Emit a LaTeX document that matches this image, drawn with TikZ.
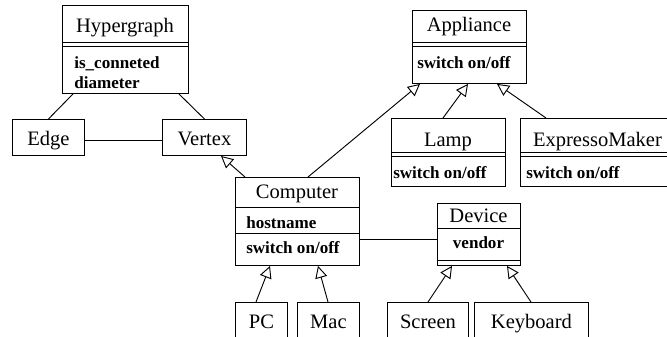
\documentclass[tikz,border=0pt]{standalone}
\usepackage{fontspec}
\setmainfont{Liberation Serif}
\usetikzlibrary{arrows.meta,calc}

\tikzset{
	box/.style={draw, line width=0.7pt, inner sep=0pt, anchor=north west},
	simplebox/.style={box, font=\fontsize{15.4}{18}\selectfont, text height=15.9pt, text depth=3.9pt, minimum height=36*0.75pt},
	classname/.style={font=\fontsize{15.4}{18}\selectfont, inner sep=0pt, anchor=base},
	member/.style={font=\fontsize{12.8}{15}\selectfont\bfseries, inner sep=0pt, anchor=base west},
	inherit/.style={line width=0.7pt, -{Triangle[open, length=9pt, width=9pt]}},
	assoc/.style={line width=0.7pt}
}

\begin{document}
\begin{tikzpicture}[x=0.75pt,y=0.75pt,yscale=-1,xscale=1]
			\useasboundingbox (0,0) rectangle (667,336);
			\clip (0,0) rectangle (667,336);
			% class boxes
			\node [box, minimum width=126*0.75pt, minimum height=88*0.75pt] (hyper) at (62,5) {};
			\draw [line width=0.7pt] (62,42) -- (188,42) (62,46) -- (188,46);
			\node [classname] (hyper-t) at (125,32) {Hypergraph};
			\node [member] (hyper-o1) at (74,68) {is\_conneted};
			\node [member] (hyper-o2) at (74,88) {diameter};
			\node [simplebox, minimum width=72*0.75pt] (edge) at (12,119) {Edge};
			\node [simplebox, minimum width=84*0.75pt] (vertex) at (162,119) {Vertex};
			\node [box, minimum width=114*0.75pt, minimum height=73*0.75pt] (appliance) at (412,10) {};
			\draw [line width=0.7pt] (412,42) -- (526,42) (412,46) -- (526,46);
			\node [classname] (appliance-t) at (469,31) {Appliance};
			\node [member] (appliance-o) at (417,68) {switch on/off};
			\node [box, minimum width=114*0.75pt, minimum height=68*0.75pt] (lamp) at (391,118) {};
			\draw [line width=0.7pt] (391,152) -- (505,152) (391,156) -- (505,156);
			\node [classname] (lamp-t) at (448,146) {Lamp};
			\node [member] (lamp-o) at (393,178) {switch on/off};
			\node [box, minimum width=155*0.75pt, minimum height=68*0.75pt] (expresso) at (520,118) {};
			\draw [line width=0.7pt] (520,152) -- (675,152) (520,156) -- (675,156);
			\node [classname] (expresso-t) at (597.5,146) {ExpressoMaker};
			\node [member] (expresso-o) at (526,178) {switch on/off};
			\node [box, minimum width=124*0.75pt, minimum height=88*0.75pt] (computer) at (235,177) {};
			\draw [line width=0.7pt] (235,207) -- (359,207) (235,233) -- (359,233);
			\node [classname] (computer-t) at (297,198) {Computer};
			\node [member] (computer-a) at (246,228) {hostname};
			\node [member] (computer-o) at (246,253) {switch on/off};
			\node [box, minimum width=83*0.75pt, minimum height=62*0.75pt] (device) at (437,203) {};
			\draw [line width=0.7pt] (437,228) -- (520,228) (437,260) -- (520,260);
			\node [classname] (device-t) at (478.5,222) {Device};
			\node [member, anchor=base] (device-a) at (478.5,248) {vendor};
			\node [simplebox, minimum width=52*0.75pt] (pc) at (235,302) {PC};
			\node [simplebox, minimum width=62*0.75pt] (mac) at (297,302) {Mac};
			\node [simplebox, minimum width=81*0.75pt] (screen) at (387,302) {Screen};
			\node [simplebox, minimum width=114*0.75pt] (keyboard) at (474,302) {Keyboard};
			% connectors
			\draw [assoc] ($(hyper.south west)+(11,0)$) -- (edge.north);
			\draw [assoc] ($(hyper.south east)+(-10,0)$) -- (vertex.north);
			\draw [assoc] ($(edge.east)+(0,3)$) -- ($(vertex.west)+(0,3)$);
			\draw [inherit] ($(computer.north west)+(10,0)$) -- ($(vertex.south west)+(59,0)$);
			\draw [inherit] ($(computer.north west)+(73,0)$) -- ($(appliance.south west)+(8,0)$);
			\draw [inherit] ($(lamp.north west)+(52,0)$) -- ($(appliance.south west)+(56,0)$);
			\draw [inherit] ($(expresso.north west)+(26,0)$) -- ($(appliance.south west)+(85,0)$);
			\draw [assoc] ($(computer.south east)+(0,-26)$) -- ($(device.south west)+(0,-26)$);
			\draw [inherit] ($(pc.north west)+(21,0)$) -- ($(computer.south west)+(35,0)$);
			\draw [inherit] ($(mac.north west)+(31,0)$) -- ($(computer.south west)+(83,0)$);
			\draw [inherit] ($(screen.north west)+(41,0)$) -- ($(device.south west)+(15,0)$);
			\draw [inherit] ($(keyboard.north west)+(57,0)$) -- ($(device.south west)+(70,0)$);
	\end{tikzpicture}
\end{document}
